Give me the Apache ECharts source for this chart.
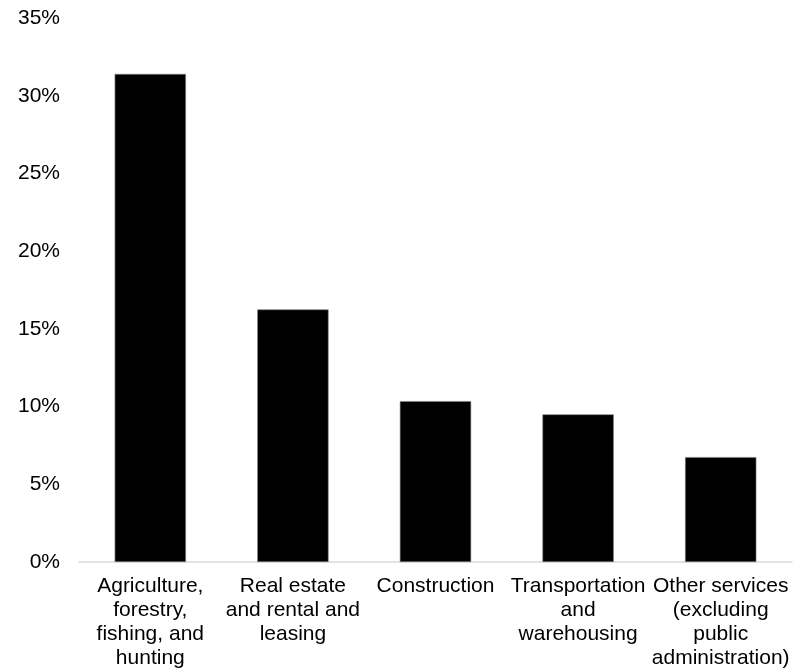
<!DOCTYPE html>
<html>
<head>
<meta charset="utf-8">
<style>
  html, body { margin: 0; padding: 0; background: #ffffff; }
  #chart { width: 800px; height: 672px; }
</style>
<script src="https://cdn.jsdelivr.net/npm/echarts@6/dist/echarts.min.js"></script>
</head>
<body>
<div id="chart"></div>
<script>
// Industry categories (line breaks as wrapped under the axis)
const categories = [
  'Agriculture,\nforestry,\nfishing, and\nhunting',
  'Real estate\nand rental and\nleasing',
  'Construction',
  'Transportation\nand\nwarehousing',
  'Other services\n(excluding\npublic\nadministration)'
];

// Share by industry, in percent
const shares = [31.4, 16.25, 10.35, 9.5, 6.75];

// Y axis range and step, in percent
const yMin = 0;
const yMax = 35;
const yStep = 5;

const chart = echarts.init(document.getElementById('chart'), null, { renderer: 'canvas' });

const font = '"Liberation Sans", Arial, Helvetica, sans-serif';

chart.setOption({
  animation: false,
  backgroundColor: '#ffffff',
  grid: { left: 79, right: 8, top: 18, bottom: 110, containLabel: false },
  xAxis: {
    type: 'category',
    data: categories,
    axisLine: { show: true, lineStyle: { color: '#d9d9d9', width: 1.5 } },
    axisTick: { show: false },
    axisLabel: {
      interval: 0,
      margin: 12,
      color: '#000000',
      fontFamily: font,
      fontSize: 21,
      lineHeight: 24,
      align: 'center',
      verticalAlign: 'top'
    }
  },
  yAxis: {
    type: 'value',
    min: yMin,
    max: yMax,
    interval: yStep,
    axisLine: { show: false },
    axisTick: { show: false },
    splitLine: { show: false },
    axisLabel: {
      margin: 19,
      color: '#000000',
      fontFamily: font,
      fontSize: 21,
      formatter: '{value}%'
    }
  },
  series: [{
    type: 'bar',
    data: shares,
    barWidth: '50%',
    itemStyle: { color: '#000000', borderColor: '#808080', borderWidth: 0.6 }
  }]
});
</script>
</body>
</html>
